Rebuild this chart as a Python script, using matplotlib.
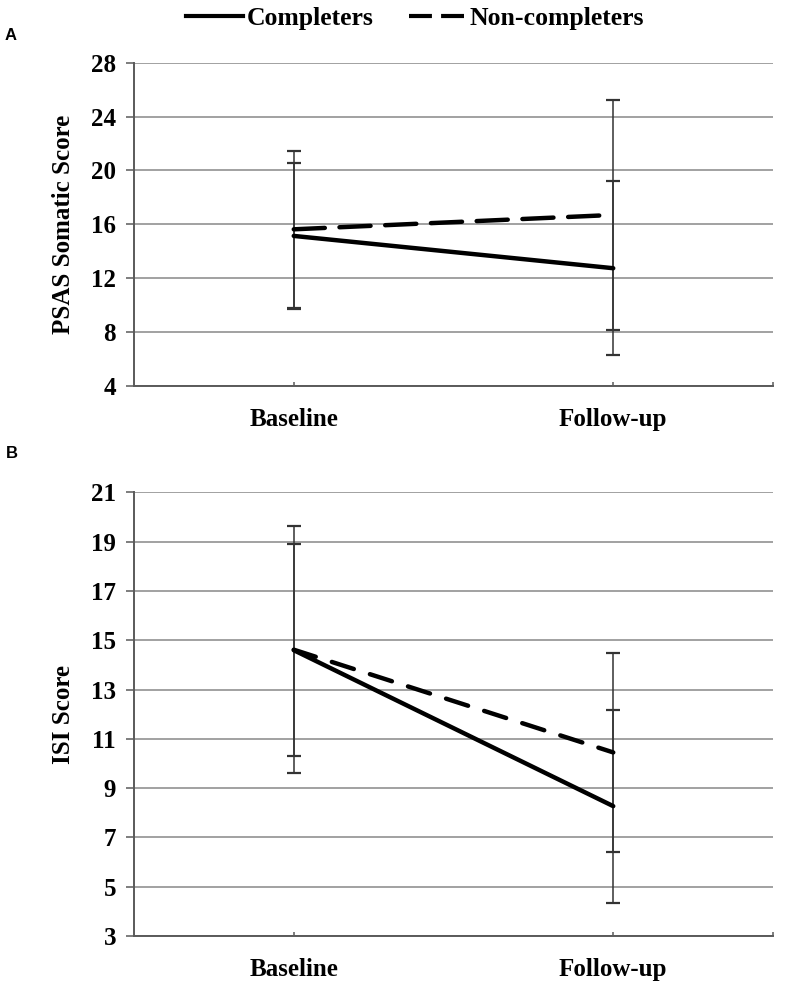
import numpy as np
import matplotlib
matplotlib.use("Agg")
import matplotlib.pyplot as plt
from matplotlib.lines import Line2D

# values (means and SDs)
time_points = ["Baseline", "Follow-up"]

psas_completers = [15.13, 12.73]
psas_completers_sd = [5.40, 6.45]
psas_noncompleters = [15.62, 16.69]
psas_noncompleters_sd = [5.85, 8.52]

isi_completers = [14.60, 8.27]
isi_completers_sd = [4.30, 3.92]
isi_noncompleters = [14.62, 10.45]
isi_noncompleters_sd = [5.00, 4.05]

psas_ticks = [4, 8, 12, 16, 20, 24, 28]
isi_ticks = [3, 5, 7, 9, 11, 13, 15, 17, 19, 21]

serif = ["Liberation Serif", "DejaVu Serif"]
grid_col = "#9a9a9a"
axis_col = "#5a5a5a"


def draw_panel(ax, comp, comp_sd, noncomp, noncomp_sd, yticks, ylabel, dash):
    x = np.arange(len(time_points))
    for y, sd in [(comp, comp_sd), (noncomp, noncomp_sd)]:
        ax.errorbar(x, y, yerr=sd, fmt="none", ecolor="#333333", elinewidth=1.1,
                    capsize=5, capthick=1.6, zorder=3)
    ax.plot(x, comp, color="black", lw=3.2, solid_capstyle="round", zorder=4)
    ax.plot(x, noncomp, color="black", lw=3.2, linestyle=(0, dash),
            dash_capstyle="round", zorder=4)

    ax.set_xlim(-0.5, 1.5)
    ax.set_ylim(yticks[0], yticks[-1])
    ax.set_yticks(yticks)
    ax.set_xticks(x)
    ax.set_xticks([1.5], minor=True)
    ax.set_xticklabels(time_points, fontfamily=serif, fontweight="bold", fontsize=18)
    for lab in ax.get_yticklabels():
        lab.set_fontfamily(serif)
        lab.set_fontweight("bold")
        lab.set_fontsize(18)

    ax.yaxis.grid(True, color=grid_col, lw=1.3)
    ax.set_axisbelow(True)
    for s in ["top", "right"]:
        ax.spines[s].set_visible(False)
    for s in ["left", "bottom"]:
        ax.spines[s].set_color(axis_col)
        ax.spines[s].set_linewidth(1.4)
    ax.tick_params(axis="y", direction="out", length=6, width=1.1, color=axis_col, pad=7)
    ax.tick_params(axis="x", which="both", direction="in", length=3, width=1.1,
                   color=axis_col, pad=16)

    ax.set_ylabel(ylabel, fontfamily=serif, fontweight="bold", fontsize=18)
    ax.yaxis.set_label_coords(-0.092, 0.5)


fig = plt.figure(figsize=(7.85, 9.84), dpi=100)
ax_a = fig.add_axes([0.1707, 0.608, 0.814, 0.3283])
ax_b = fig.add_axes([0.1707, 0.0488, 0.814, 0.4507])

draw_panel(ax_a, psas_completers, psas_completers_sd, psas_noncompleters,
           psas_noncompleters_sd, psas_ticks, "PSAS Somatic Score", (7, 3.3))
draw_panel(ax_b, isi_completers, isi_completers_sd, isi_noncompleters,
           isi_noncompleters_sd, isi_ticks, "ISI Score", (5.2, 3.8))

fig.text(0.014, 1 - 35 / 984, "A", fontfamily=["Liberation Sans", "DejaVu Sans"],
         fontweight="bold", fontsize=12, ha="center", va="center")
fig.text(0.015, 1 - 454 / 984, "B", fontfamily=["Liberation Sans", "DejaVu Sans"],
         fontweight="bold", fontsize=12, ha="center", va="center")

handles = [Line2D([], [], color="black", lw=3),
           Line2D([], [], color="black", lw=3, linestyle=(0, (5.5, 2.2)))]
fig.legend(handles, ["Completers", "Non-completers"], loc="center",
           bbox_to_anchor=(0.529, 1 - 18 / 984), ncol=2, frameon=False,
           handlelength=2.2, handletextpad=0.15, columnspacing=1.4,
           prop={"family": serif, "weight": "bold", "size": 18.5})

fig.savefig("out.png", dpi=100)
